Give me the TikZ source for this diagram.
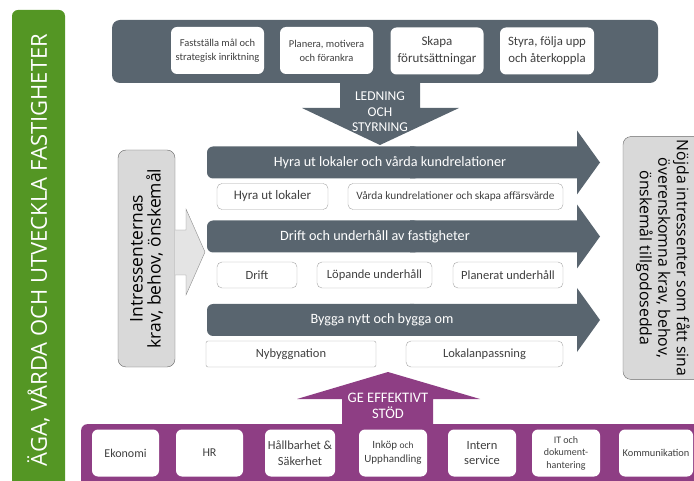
\documentclass[tikz,border=0pt]{standalone}
\usepackage{tikz}
\usetikzlibrary{shapes,positioning,arrows,calc}
\usepackage{xcolor}
\usepackage{fontspec}
\setmainfont{Carlito}
\newfontfamily\opensans{Open Sans}
\definecolor{slate}{RGB}{89,101,111}
\definecolor{grass}{RGB}{84,150,36}
\definecolor{plum}{RGB}{142,62,132}
\definecolor{pale}{RGB}{217,217,217}
\definecolor{ink}{RGB}{64,64,64}

\begin{document}
\begin{tikzpicture}[
    x=1pt,
    y=-1pt,
    tbox/.style ={
        rectangle,
        rounded corners=6pt,
        fill=white,
        text=ink,
        align=center,
        inner sep=1pt,
        minimum height=47pt,
        font=\fontsize{10.5}{14}\selectfont
    },
    sbox/.style ={
        rectangle,
        rounded corners=5pt,
        fill=white,
        draw=black!35,
        text=ink,
        inner sep=1pt,
        minimum height=26pt,
        font=\fontsize{12.5}{14}\selectfont
    },
    bbox/.style ={
        rectangle,
        rounded corners=6pt,
        fill=white,
        text=ink,
        align=center,
        inner sep=1pt,
        minimum height=47pt,
        font=\fontsize{12}{15}\selectfont
    },
    side/.style ={
        rectangle,
        rounded corners=8pt,
        fill=pale,
        draw=black!60,
        align=center,
        font=\opensans\fontsize{15.8}{18.5}\selectfont
    },
    wlbl/.style ={
        text=white,
        align=center,
        font=\fontsize{14.2}{16}\selectfont
    }
    ]
    \useasboundingbox (0,0) rectangle (694,481);

    % green title bar
    \node[rectangle, rounded corners=6pt, fill=grass, text=white, rotate=90,
          minimum width=480pt, minimum height=53pt,
          font=\opensans\fontsize{22}{24}\selectfont] (title) at (38.5,250)
          {ÄGA, VÅRDA OCH UTVECKLA FASTIGHETER};

    % ledning och styrning
    \node[rectangle, rounded corners=8pt, fill=slate,
          minimum width=546pt, minimum height=63pt] (lead) at (385,51.5) {};
    \node[tbox, minimum width=93pt] (goal) at (217.5,50.5) {Fastställa mål och\\strategisk inriktning};
    \node[tbox, minimum width=93pt] (plan) at (326.5,50.5) {Planera, motivera\\och förankra};
    \node[tbox, minimum width=93pt, font=\fontsize{13}{17}\selectfont] (cond) at (437,51) {Skapa\\förutsättningar};
    \node[tbox, minimum width=94pt, font=\fontsize{12.8}{17}\selectfont] (ctrl) at (547,51) {Styra, följa upp\\och återkoppla};
    \fill[slate] (340,82) -- (420,82) -- (420,108) -- (459,108) -- (380,145)
        -- (302,108) -- (340,108) -- cycle;
    \node[wlbl, font=\fontsize{13.5}{15.5}\selectfont] (leadlbl) at (380,112) {LEDNING\\OCH\\STYRNING};

    % main processes
    \foreach \yc/\xc/\nm/\lbl in {162.5/390/rent/Hyra ut lokaler och vårda kundrelationer,
                                  236.5/375/oper/Drift och underhåll av fastigheter,
                                  320/382/build/Bygga nytt och bygga om}{
        \fill[slate, rounded corners=6pt] (420,\yc-16) -- (207,\yc-16) -- (207,\yc+16) -- (420,\yc+16) -- cycle;
        \fill[slate] (410,\yc-16) -- (577,\yc-16) -- (577,\yc-32) -- (600,\yc)
            -- (577,\yc+32) -- (577,\yc+16) -- (410,\yc+16) -- cycle;
        \node[wlbl] (\nm) at (\xc,\yc) {\lbl};
    }

    \node[sbox, minimum width=111pt, font=\fontsize{13}{14}\selectfont] (hyra) at (272.5,196.5) {Hyra ut lokaler};
    \node[sbox, minimum width=215pt, font=\fontsize{11.3}{12}\selectfont] (varda) at (455.5,196.5) {Vårda kundrelationer och skapa affärsvärde};
    \node[sbox, minimum width=80pt] (drift) at (257,275) {Drift};
    \node[sbox, minimum width=115pt] (lopande) at (374.5,275) {Löpande underhåll};
    \node[sbox, minimum width=110pt] (planerat) at (508,275) {Planerat underhåll};
    \node[sbox, minimum width=170pt, rounded corners=2pt] (nybygg) at (291,354) {Nybyggnation};
    \node[sbox, minimum width=157pt] (lokal) at (484.5,354) {Lokalanpassning};

    % intressenter in och ut
    \node[side, rotate=90, minimum width=217pt, minimum height=57pt,
          font=\opensans\fontsize{17.5}{18}\selectfont] (krav) at (146.5,258.5)
        {Intressenternas\\krav, behov, önskemål};
    \filldraw[fill=pale!70, draw=black!45] (175,230) -- (186,230) -- (186,209) -- (205,252)
        -- (186,295) -- (186,275) -- (175,275);
    \node[side, rotate=-90, minimum width=232pt, minimum height=80pt] (nojda) at (663,258)
        {Nöjda intressenter som fått sina\\överenskomna krav, behov,\\önskemål tillgodosedda};

    % stöd
    \fill[plum] (342,425) -- (433,425) -- (433,399) -- (480,399) -- (388,372)
        -- (297,399) -- (342,399) -- cycle;
    \node[wlbl, font=\fontsize{14.5}{16}\selectfont] (stodlbl) at (388,406) {GE EFFEKTIVT\\STÖD};
    \node[rectangle, rounded corners=6pt, fill=plum, anchor=north west,
          minimum width=625pt, minimum height=70pt] (stod) at (81,424) {};
    \node[bbox, minimum width=67pt] (eko) at (125.5,453) {Ekonomi};
    \node[bbox, minimum width=67pt] (hr) at (209.5,453) {HR};
    \node[bbox, minimum width=70pt, font=\fontsize{12.4}{16}\selectfont] (hall) at (300,453) {Hållbarhet \&\\Säkerhet};
    \node[bbox, minimum width=68pt, font=\fontsize{11}{14}\selectfont] (inkop) at (393,453) {Inköp {\fontsize{9.5}{10}\selectfont och}\\Upphandling};
    \node[bbox, minimum width=68pt, font=\fontsize{12.5}{15}\selectfont] (intern) at (482,453) {Intern\\service};
    \node[bbox, minimum width=68pt, font=\fontsize{10}{12.5}\selectfont] (it) at (566,453) {IT och\\dokument-\\hantering};
    \node[bbox, minimum width=74pt, font=\fontsize{10.4}{11}\selectfont] (komm) at (656,453) {Kommunikation};
\end{tikzpicture}
\end{document}
